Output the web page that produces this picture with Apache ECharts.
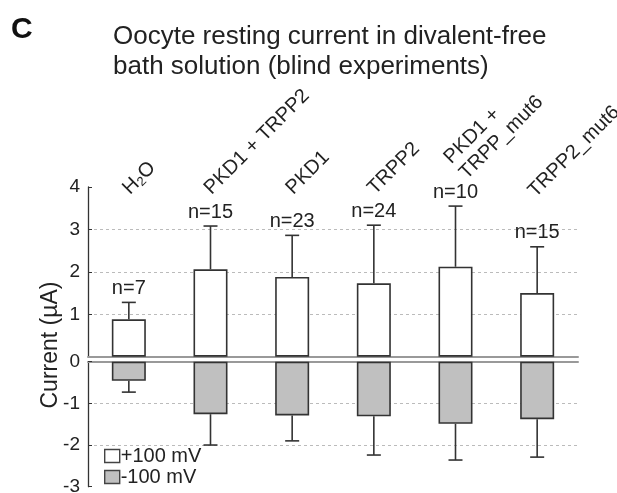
<!DOCTYPE html>
<html>
<head>
<meta charset="utf-8">
<script src="https://cdn.jsdelivr.net/npm/echarts@6/dist/echarts.min.js"></script>
<style>
  html, body { margin: 0; padding: 0; background: #fff; }
  #chart { width: 617px; height: 493px; }
</style>
</head>
<body>
<div id="chart"></div>
<script>
// groups (top labels) and n per group
const categories = ["H2O", "PKD1 + TRPP2", "PKD1", "TRPP2", "PKD1 +\nTRPP_mut6", "TRPP2_mut6"];
const nCounts = [7, 15, 23, 24, 10, 15];

// +100 mV (mean, error) in uA
const posMean = [0.88, 2.06, 1.88, 1.73, 2.12, 1.50];
const posErr = [0.40, 1.02, 0.98, 1.37, 1.43, 1.09];

// -100 mV (mean, error) in uA
const negMean = [-0.46, -1.26, -1.29, -1.31, -1.49, -1.38];
const negErr = [0.27, 0.74, 0.61, 0.93, 0.87, 0.91];

const upperTicks = [0, 1, 2, 3, 4];
const lowerTicks = [-3, -2, -1, 0];

const FONT = "Liberation Sans";
const INK = "#222";

var chartDom = document.getElementById("chart");
var myChart = echarts.init(chartDom);

// error bar with cap, optional "n=" label above it
function errorBar(withLabel) {
  return function (params, api) {
    const i = api.value(0);
    const p0 = api.coord([i, api.value(1)]);
    const p1 = api.coord([i, api.value(2)]);
    const half = 7;
    const st = { stroke: "#333", lineWidth: 1.6 };
    const children = [
      { type: "line", shape: { x1: p0[0], y1: p0[1], x2: p1[0], y2: p1[1] }, style: st },
      { type: "line", shape: { x1: p1[0] - half, y1: p1[1], x2: p1[0] + half, y2: p1[1] }, style: st },
    ];
    if (withLabel) {
      children.push({
        type: "text",
        x: p1[0],
        y: p1[1] - 4,
        style: {
          text: "n=" + nCounts[i],
          font: "20px " + FONT,
          fill: INK,
          align: "center",
          verticalAlign: "bottom",
        },
      });
    }
    return { type: "group", children: children };
  };
}

// the two-line label sits a bit higher in the figure, the last one is nudged to fit the edge
// (item textStyle does not inherit align/verticalAlign, so set them again)
const labelData = categories.map(function (c, i) {
  if (c.indexOf("\n") >= 0) {
    return { value: c, textStyle: { padding: [0, 0, 51, 25] } };
  }
  if (i === categories.length - 1) {
    return { value: c, textStyle: { align: "left", verticalAlign: "bottom", padding: [0, 0, 0, 3] } };
  }
  return c;
});

let option = {
  animation: false,
  title: [
    {
      text: "C",
      left: 6,
      top: 10,
      textStyle: { fontFamily: FONT, fontSize: 30, fontWeight: "bold", color: "#111" },
    },
    {
      text: "Oocyte resting current in divalent-free\nbath solution (blind experiments)",
      left: 108,
      top: 17,
      textStyle: { fontFamily: FONT, fontSize: 26, fontWeight: "normal", lineHeight: 30, color: INK },
    },
  ],
  graphic: [
    {
      type: "text",
      x: 51,
      y: 345,
      rotation: Math.PI / 2,
      style: {
        text: "Current (\u00b5A)",
        font: "23px " + FONT,
        fill: INK,
        align: "center",
        verticalAlign: "middle",
      },
    },
  ],
  legend: {
    orient: "vertical",
    left: 99,
    top: 441,
    itemWidth: 15,
    itemHeight: 13,
    itemGap: 1,
    icon: "rect",
    data: ["+100 mV", "-100 mV"],
    itemStyle: { borderColor: "#444", borderWidth: 1.4 },
    textStyle: { fontFamily: FONT, fontSize: 20, color: INK, padding: [0, 0, 0, -4] },
  },
  grid: [
    { left: 88, right: 39, top: 187, height: 169.7, outerBoundsMode: "none" },
    { left: 88, right: 39, top: 361.7, height: 125, outerBoundsMode: "none" },
  ],
  xAxis: [
    {
      gridIndex: 0,
      type: "category",
      data: categories,
      axisLine: { lineStyle: { color: "#999", width: 2 } },
      axisTick: { inside: true, length: 2, lineStyle: { color: "#888" } },
      axisLabel: { show: false },
    },
    {
      gridIndex: 0,
      type: "category",
      position: "top",
      data: labelData,
      axisLine: { show: false },
      axisTick: { show: false },
      axisLabel: {
        interval: 0,
        rotate: -45,
        margin: -17,
        align: "left",
        verticalAlign: "bottom",
        padding: [0, 0, 0, 7],
        fontFamily: FONT,
        fontSize: 20,
        lineHeight: 22,
        color: INK,
        formatter: function (v) {
          return v === "H2O" ? "{a|H}{b|2}{a|O}" : v;
        },
        rich: {
          a: { fontFamily: FONT, fontSize: 20, color: INK },
          b: { fontFamily: FONT, fontSize: 13, color: INK, verticalAlign: "bottom" },
        },
      },
    },
    {
      gridIndex: 1,
      type: "category",
      position: "top",
      data: categories,
      axisLine: { lineStyle: { color: "#999", width: 2 } },
      axisTick: { inside: true, length: 2, lineStyle: { color: "#888" } },
      axisLabel: { show: false },
    },
  ],
  yAxis: [
    {
      gridIndex: 0,
      type: "value",
      min: upperTicks[0],
      max: upperTicks[upperTicks.length - 1],
      interval: 1,
      axisLine: { show: true, lineStyle: { color: "#333", width: 1.3 } },
      axisTick: { show: true, inside: true, length: 4, lineStyle: { color: "#333" } },
      axisLabel: { showMinLabel: false, margin: 8, fontFamily: FONT, fontSize: 19, color: INK },
      splitLine: {
        show: true,
        showMinLine: false,
        showMaxLine: false,
        lineStyle: { color: "#bbb", type: [3, 3] },
      },
    },
    {
      gridIndex: 1,
      type: "value",
      min: lowerTicks[0],
      max: lowerTicks[lowerTicks.length - 1],
      interval: 1,
      axisLine: { show: true, lineStyle: { color: "#333", width: 1.3 } },
      axisTick: { show: true, inside: true, length: 4, lineStyle: { color: "#333" } },
      axisLabel: { margin: 8, fontFamily: FONT, fontSize: 19, color: INK },
      splitLine: {
        show: true,
        showMinLine: false,
        showMaxLine: false,
        lineStyle: { color: "#bbb", type: [3, 3] },
      },
    },
  ],
  series: [
    {
      name: "+100 mV",
      type: "bar",
      xAxisIndex: 0,
      yAxisIndex: 0,
      barWidth: 34,
      data: posMean,
      itemStyle: { color: "#fff", borderColor: "#333", borderWidth: 1.6 },
    },
    {
      type: "custom",
      xAxisIndex: 0,
      yAxisIndex: 0,
      renderItem: errorBar(true),
      encode: { x: 0, y: [1, 2] },
      data: posMean.map(function (m, i) {
        return [i, m, m + posErr[i]];
      }),
      z: 5,
    },
    {
      name: "-100 mV",
      type: "bar",
      xAxisIndex: 2,
      yAxisIndex: 1,
      barWidth: 34,
      data: negMean,
      itemStyle: { color: "#c0c0c0", borderColor: "#333", borderWidth: 1.6 },
    },
    {
      type: "custom",
      xAxisIndex: 2,
      yAxisIndex: 1,
      renderItem: errorBar(false),
      encode: { x: 0, y: [1, 2] },
      data: negMean.map(function (m, i) {
        return [i, m, m - negErr[i]];
      }),
      z: 5,
    },
  ],
};

option && myChart.setOption(option);
</script>
</body>
</html>
